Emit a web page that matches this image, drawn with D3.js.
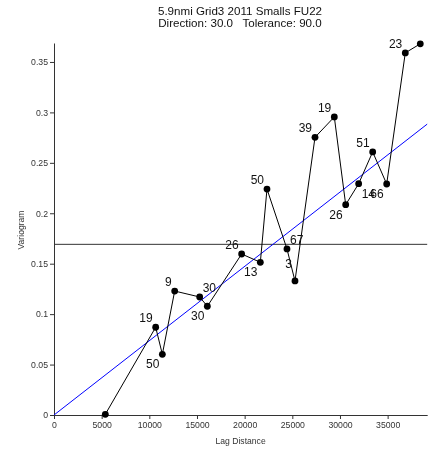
<!DOCTYPE html>
<html>
<head>
<meta charset="utf-8">
<script src="https://cdn.jsdelivr.net/npm/d3@7"></script>
<style>
  html, body { margin: 0; padding: 0; background: #fff; }
  svg { display: block; font-family: "Liberation Sans", Arial, sans-serif; will-change: transform; }
  text { white-space: pre; }
</style>
</head>
<body>
<svg id="chart" width="432" height="451"></svg>
<script>
// Experimental variogram: lag centres, semivariance, pair counts
const lags = [5384, 10666, 11366, 12660, 15282, 16085, 19685, 21645, 22343, 24440,
              25280, 27380, 29405, 30600, 31960, 33430, 34900, 36852, 38425];
const gamma = [0.0007, 0.087, 0.0602, 0.1229, 0.117, 0.1078, 0.1596, 0.1514, 0.224, 0.1646,
               0.1329, 0.2753, 0.2955, 0.2085, 0.2293, 0.2608, 0.229, 0.359, 0.368];
const pairs = [null, 19, 50, 9, 30, 30, 26, 13, 50, 67,
               3, 39, 19, 26, 14, 51, 66, 23, null];
// where each pair-count label sits around its point (u/l = above/below, h = well above)
const labelSide = [null, "ul", "ll", "ul", "ur", "ll", "ul", "ll", "ul", "ur",
                   "hl", "ul", "ul", "ll", "lr", "ul", "ll", "ul", null];

const sill = 0.1692;          // sample variance reference line
const modelSlope = 7.366e-6;  // linear model fitted through origin

const xTicks = [0, 5000, 10000, 15000, 20000, 25000, 30000, 35000];
const yTicks = [0, 0.05, 0.1, 0.15, 0.2, 0.25, 0.3, 0.35];
const titleLines = ["5.9nmi Grid3 2011 Smalls FU22", "Direction: 30.0   Tolerance: 90.0"];

const svg = d3.select("#chart");
const xMax = 39150, yMax = 0.3688;
const x = d3.scaleLinear().domain([0, xMax]).range([54, 427.2]);
const y = d3.scaleLinear().domain([0, yMax]).range([415, 43]);

// title
svg.append("g").selectAll("text").data(titleLines).join("text")
  .attr("x", 240).attr("y", (d, i) => 14.5 + i * 12)
  .attr("text-anchor", "middle").attr("font-size", 11.6).attr("fill", "#111")
  .attr("xml:space", "preserve")
  .text(d => d);

// axes
const xAxis = svg.append("g").attr("transform", `translate(0,${y(0)})`)
  .call(d3.axisBottom(x).tickValues(xTicks).tickFormat(d3.format("d")).tickSize(4).tickSizeOuter(0).tickPadding(3));
const yAxis = svg.append("g").attr("transform", `translate(${x(0)},0)`)
  .call(d3.axisLeft(y).tickValues(yTicks).tickFormat(d => d === 0 ? "0" : String(d)).tickSize(4).tickSizeOuter(0).tickPadding(2));
[xAxis, yAxis].forEach(a => {
  a.select(".domain").attr("stroke", "#333");
  a.selectAll(".tick line").attr("stroke", "#333");
  a.selectAll(".tick text").attr("font-size", 8.7).attr("fill", "#333")
    .attr("font-family", "Liberation Sans, Arial, sans-serif");
});

svg.append("text").attr("x", x(xMax / 2)).attr("y", 444)
  .attr("text-anchor", "middle").attr("font-size", 8.6).attr("fill", "#333")
  .text("Lag Distance");
svg.append("text").attr("transform", `translate(24,${230}) rotate(-90)`)
  .attr("text-anchor", "middle").attr("font-size", 8.6).attr("fill", "#333")
  .text("Variogram");

// sill line
svg.append("line")
  .attr("x1", x(0)).attr("x2", x(xMax)).attr("y1", y(sill)).attr("y2", y(sill))
  .attr("stroke", "#333").attr("stroke-width", 1);

// linear model
svg.append("line")
  .attr("x1", x(0)).attr("y1", y(0)).attr("x2", x(xMax)).attr("y2", y(modelSlope * xMax))
  .attr("stroke", "#0000ff").attr("stroke-width", 1);

// experimental variogram
const pts = lags.map((d, i) => ({ lag: d, g: gamma[i], n: pairs[i], side: labelSide[i] }));
svg.append("path").datum(pts)
  .attr("fill", "none").attr("stroke", "#000").attr("stroke-width", 1)
  .attr("d", d3.line().x(d => x(d.lag)).y(d => y(d.g)));
svg.append("g").selectAll("circle").data(pts).join("circle")
  .attr("cx", d => x(d.lag)).attr("cy", d => y(d.g)).attr("r", 3.4).attr("fill", "#000");

const dyFor = { u: -5, h: -13, l: 14 };
svg.append("g").selectAll("text").data(pts.filter(d => d.n !== null)).join("text")
  .attr("x", d => x(d.lag) + (d.side[1] === "l" ? -3 : 3))
  .attr("y", d => y(d.g) + dyFor[d.side[0]])
  .attr("text-anchor", d => d.side[1] === "l" ? "end" : "start")
  .attr("font-size", 12).attr("fill", "#111")
  .text(d => d.n);
</script>
</body>
</html>
